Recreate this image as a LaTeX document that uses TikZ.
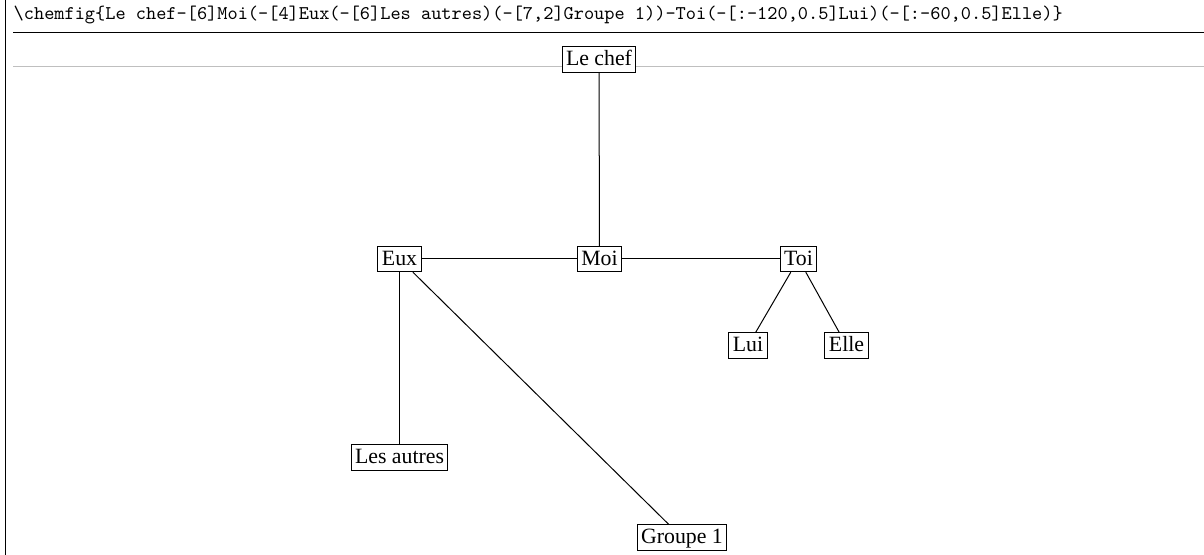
\documentclass[tikz,border=0pt]{standalone}
\usepackage{fontspec}
\setmainfont{Liberation Serif}
\begin{document}
\begin{tikzpicture}[x=0.5pt,y=-0.5pt,
  atom/.style={draw,line width=0.5pt,inner xsep=2pt,inner ysep=1pt,
    text height=8.5pt,text depth=2.2pt,font=\fontsize{10.9}{12}\selectfont},
  bond/.style={line width=0.5pt},
  rule/.style={line width=0.65pt},
  guide/.style={line width=0.5pt,draw=black!25}]
\useasboundingbox (0,0) rectangle (1204,555);
% frame lines
\coordinate (vtop) at (5,0);
\coordinate (vbot) at (5,555);
\draw[line width=0.5pt] (vtop) -- (vbot);
\node[anchor=base west,inner sep=0pt,font=\ttfamily\fontsize{9.7}{11}\selectfont] (code) at (13.3,20)
  {\string\chemfig\{Le chef-[6]Moi(-[4]Eux(-[6]Les autres)(-[7,2]Groupe 1))-Toi(-[:-120,0.5]Lui)(-[:-60,0.5]Elle)\}};
\coordinate (r1a) at (13.3,32.3);
\coordinate (r1b) at (1204,32.3);
\draw[rule] (r1a) -- (r1b);
\coordinate (g1a) at (13.3,66.2);
\coordinate (g1b) at (1204,66.2);
\draw[guide] (g1a) -- (g1b);
% atoms
\node[atom,fill=white] (chef) at (599,59.4) {Le chef};
\node[atom] (moi) at (599.5,259) {Moi};
\node[atom] (eux) at (399.5,259) {Eux};
\node[atom] (autres) at (399.5,457.5) {Les autres};
\node[atom] (grp) at (682,537.5) {Groupe 1};
\node[atom] (toi) at (798.5,259) {Toi};
\node[atom] (lui) at (748,345.5) {Lui};
\node[atom] (elle) at (846.5,345.5) {Elle};
% bonds
\draw[bond] (chef) -- (moi);
\draw[bond] (moi) -- (eux);
\draw[bond] (eux) -- (autres);
\draw[bond] (eux) -- (grp);
\draw[bond] (moi) -- (toi);
\draw[bond] (toi) -- (lui);
\draw[bond] (toi) -- (elle);
\end{tikzpicture}
\end{document}
